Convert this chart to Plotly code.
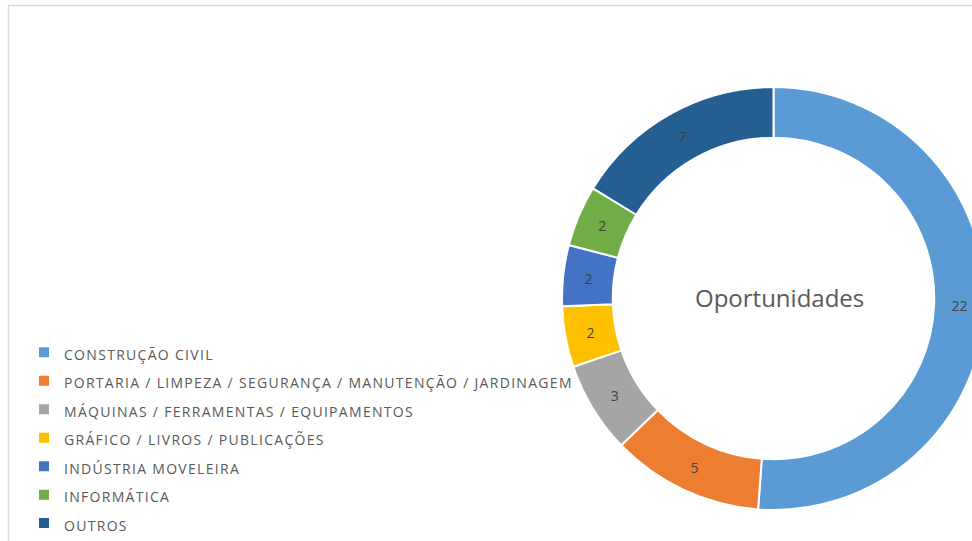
import plotly.graph_objects as go

categories = [
    "CONSTRUÇÃO CIVIL",
    "PORTARIA / LIMPEZA / SEGURANÇA / MANUTENÇÃO / JARDINAGEM",
    "MÁQUINAS / FERRAMENTAS / EQUIPAMENTOS",
    "GRÁFICO / LIVROS / PUBLICAÇÕES",
    "INDÚSTRIA MOVELEIRA",
    "INFORMÁTICA",
    "OUTROS",
]
values = [22, 5, 3, 2, 2, 2, 7]
colors = ["#5B9BD5", "#ED7D31", "#A5A5A5", "#FFC000", "#4472C4", "#70AD47", "#255E91"]
center_title = "Oportunidades"

W, H = 990, 541
FONT = "Open Sans, Noto Sans, sans-serif"

legend_labels = [
    f'<span style="font-size:14px;letter-spacing:1.3px">{c}</span>' for c in categories
]

fig = go.Figure(
    go.Pie(
        labels=legend_labels,
        values=values,
        hole=0.76,
        sort=False,
        direction="clockwise",
        rotation=0,
        marker=dict(colors=colors, line=dict(color="white", width=2)),
        textinfo="value",
        textposition="inside",
        insidetextorientation="horizontal",
        textfont=dict(family=FONT, size=14, color="#404040"),
        hoverinfo="skip",
        domain=dict(x=[562 / W, 985 / W], y=[31 / H, 454 / H]),
    )
)

fig.add_annotation(
    text=center_title, x=779 / W, y=(H - 297) / H, xref="paper", yref="paper",
    showarrow=False, font=dict(family=FONT, size=24, color="#595959"),
    xanchor="center", yanchor="middle",
)

fig.add_shape(
    type="rect", xref="paper", yref="paper",
    x0=8.5 / W, x1=1.05, y0=(H - 5.5) / H, y1=-0.05,
    line=dict(color="#D9D9D9", width=1.5), fillcolor="rgba(0,0,0,0)",
)

fig.update_layout(
    width=W, height=H,
    margin=dict(l=0, r=0, t=0, b=0, autoexpand=False),
    paper_bgcolor="white", plot_bgcolor="white",
    showlegend=True,
    legend=dict(
        x=24 / W, y=(H - 333) / H, xanchor="left", yanchor="top",
        font=dict(family=FONT, size=19.6, color="#595959"),
        bgcolor="rgba(0,0,0,0)",
    ),
)

fig.write_html(
    "out.html",
    config={"displayModeBar": False},
    post_script="document.body.style.margin='0';document.body.style.overflow='hidden';",
)
